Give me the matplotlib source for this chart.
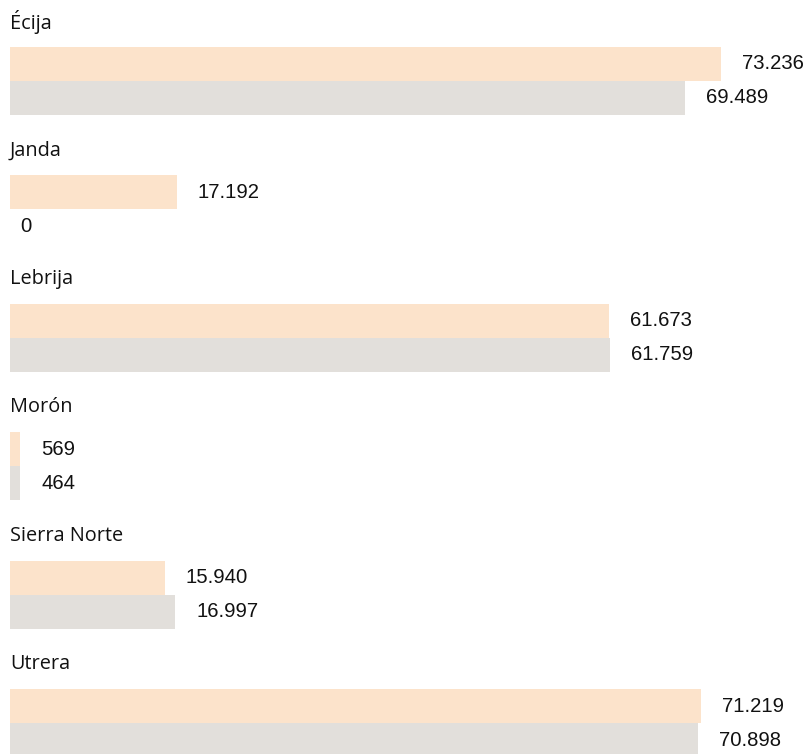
import matplotlib
matplotlib.use("Agg")
import matplotlib.pyplot as plt

categories = ["Écija", "Janda", "Lebrija", "Morón", "Sierra Norte", "Utrera"]
series_a = [73236, 17192, 61673, 569, 15940, 71219]
series_b = [69489, 0, 61759, 464, 16997, 70898]

color_a = "#FCE3CB"
color_b = "#E2DFDB"

W, H = 809, 754
fig = plt.figure(figsize=(W / 100, H / 100), dpi=100)
ax = fig.add_axes([10 / W, 0, (W - 10) / W, 1])
ax.set_axis_off()

xmax = 82300
ax.set_xlim(0, xmax)
ax.set_ylim(5.697, -0.171)

bar_h = 0.2646
off_a = 0.327
off_b = 0.591
min_vis = xmax * 10 / (W - 10)


def fmt(v):
    return f"{v:,}".replace(",", ".")


for i, cat in enumerate(categories):
    ax.text(0, i, cat, ha="left", va="center", fontsize=14.3,
            family="Open Sans", color="#111111")
    for vals, off, col in ((series_a, off_a, color_a), (series_b, off_b, color_b)):
        v = vals[i]
        w = max(v, min_vis) if v > 0 else 0
        ax.barh(i + off, w, height=bar_h, color=col, align="center", linewidth=0)
        ax.annotate(fmt(v), xy=(w, i + off), xytext=(21 if v > 0 else 10, 0),
                    textcoords="offset pixels", ha="left", va="center",
                    fontsize=14.6, family="Liberation Sans", color="#111111")

fig.savefig("out.png", dpi=100)
